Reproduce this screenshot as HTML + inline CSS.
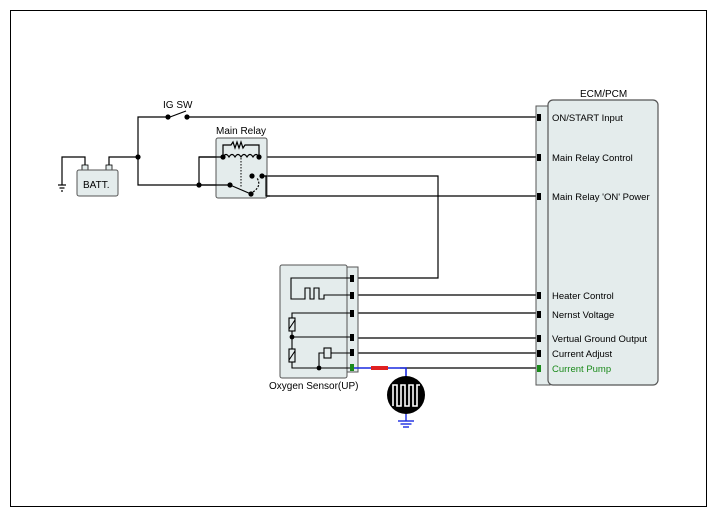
<!DOCTYPE html>
<html><head><style>
html,body{margin:0;padding:0;background:#fff;}
svg{display:block;font-family:"Liberation Sans",Arial,sans-serif;}
</style></head><body>
<svg width="717" height="518" viewBox="0 0 717 518" xmlns="http://www.w3.org/2000/svg">
<rect x="10.5" y="10.5" width="696" height="496" fill="#fff" stroke="#000" stroke-width="1"/>
<g stroke="#000" stroke-width="1.2" fill="none">
<!-- IG SW -->
<polyline points="168,117 138,117 138,185 199,185"/>
<line x1="170" y1="117" x2="186" y2="111"/>
<line x1="187" y1="117" x2="537" y2="117"/>
<!-- battery -->
<polyline points="109,166 109,157 138,157"/>
<polyline points="85,166 85,157 62,157 62,185"/>
<line x1="58" y1="185" x2="66" y2="185"/><line x1="59.5" y1="188" x2="64.5" y2="188"/><line x1="61" y1="191" x2="63" y2="191"/>
<!-- relay wiring -->
<polyline points="199,185 199,157 223,157"/>
<line x1="199" y1="185" x2="230" y2="185"/>
<line x1="230" y1="185" x2="251" y2="194"/>
<path d="M251,194 Q262,186 256,178" stroke-dasharray="2,1.5"/>
<line x1="259" y1="157" x2="537" y2="157"/>
<polyline points="262,176 438,176 438,278 352,278"/>
<polyline points="262,176 266,176 266,196 537,196"/>
<!-- sensor lines -->
<line x1="352" y1="295" x2="537" y2="295"/>
<line x1="352" y1="313" x2="537" y2="313"/>
<line x1="352" y1="338" x2="537" y2="338"/>
<line x1="352" y1="353" x2="537" y2="353"/>
<line x1="400" y1="368" x2="537" y2="368"/>
<!-- ECM strip pins vertical -->
</g>
<!-- relay box -->
<rect x="216" y="138" width="51" height="60" rx="2" fill="#e4ecec" stroke="#555" stroke-width="1"/>
<g stroke="#000" stroke-width="1.2" fill="none">
<line x1="199" y1="157" x2="223" y2="157"/>
<line x1="230" y1="185" x2="251" y2="194"/>
<polyline points="199,185 230,185"/>
<path d="M223,157 q3,-5 6,0 q3,-5 6,0 q3,-5 6,0 q3,-5 6,0 q3,-5 6,0 q3,-5 6,0"/>
<polyline points="223,157 223,145 231,145 233,142 235,148 237,142 239,148 241,142 243,148 245,145 259,145 259,157"/>
<line x1="241" y1="158" x2="241" y2="188" stroke-dasharray="1.5,1.5" stroke-width="1"/>
<path d="M253,192 Q262,186 257,178" stroke-dasharray="2,1.5"/>
<polyline points="252,176 252,174 262,174" stroke="none"/>
<line x1="262" y1="176" x2="267" y2="176"/>
<polyline points="262,176 266,176 266,196 270,196"/>
<line x1="252" y1="176" x2="252" y2="172" stroke="none"/>
</g>
<g fill="#000">
<circle cx="138" cy="157" r="2.6"/><circle cx="199" cy="185" r="2.6"/>
<circle cx="168" cy="117" r="2.6"/><circle cx="187" cy="117" r="2.6"/>
<circle cx="223" cy="157" r="2.6"/><circle cx="259" cy="157" r="2.6"/>
<circle cx="230" cy="185" r="2.6"/><circle cx="251" cy="194" r="2.6"/>
<circle cx="252" cy="176" r="2.6"/><circle cx="262" cy="176" r="2.6"/>
</g>
<text x="163" y="108" font-size="10">IG SW</text>
<text x="216" y="134" font-size="10">Main Relay</text>
<!-- battery -->
<rect x="82" y="165" width="6" height="5" fill="#e4ecec" stroke="#000" stroke-width="0.8"/>
<rect x="106" y="165" width="6" height="5" fill="#e4ecec" stroke="#000" stroke-width="0.8"/>
<rect x="77" y="170" width="41" height="26" rx="2" fill="#e4ecec" stroke="#555" stroke-width="1"/>
<text x="83" y="188" font-size="10">BATT.</text>
<!-- ECM -->
<rect x="536" y="106" width="14" height="279" fill="#e4ecec" stroke="#555" stroke-width="1"/>
<rect x="548" y="100" width="110" height="285" rx="5" fill="#e4ecec" stroke="#555" stroke-width="1.2"/>
<text x="580" y="97" font-size="10">ECM/PCM</text>
<g fill="#000">
<rect x="537" y="114" width="4" height="7"/><rect x="537" y="154" width="4" height="7"/><rect x="537" y="193" width="4" height="7"/>
<rect x="537" y="292" width="4" height="7"/><rect x="537" y="311" width="4" height="7"/><rect x="537" y="335" width="4" height="7"/>
<rect x="537" y="350" width="4" height="7"/><rect x="537" y="365" width="4" height="7" fill="#1a8a1a"/>
</g>
<g font-size="9.5" fill="#000">
<text x="552" y="121">ON/START Input</text>
<text x="552" y="161">Main Relay Control</text>
<text x="552" y="200">Main Relay 'ON' Power</text>
<text x="552" y="299">Heater Control</text>
<text x="552" y="318">Nernst Voltage</text>
<text x="552" y="342">Vertual Ground Output</text>
<text x="552" y="357">Current Adjust</text>
<text x="552" y="372" fill="#1a8a1a">Current Pump</text>
</g>
<!-- sensor -->
<rect x="346" y="267" width="12" height="105" fill="#e4ecec" stroke="#555" stroke-width="1"/>
<rect x="280" y="265" width="67" height="113" rx="2" fill="#e4ecec" stroke="#555" stroke-width="1"/>
<g stroke="#000" stroke-width="1.1" fill="none">
<polyline points="350,278 291,278 291,299 305,299 305,288 310,288 310,299 314,299 314,288 319,288 319,299 324,299 324,295 350,295"/>
<polyline points="350,313 292,313 292,318"/>
<rect x="289" y="318" width="6" height="13"/>
<polyline points="292,331 292,349"/>
<line x1="292" y1="337" x2="350" y2="337"/>
<rect x="289" y="349" width="6" height="13"/>
<polyline points="292,362 292,368 350,368"/>
<polyline points="319,368 319,353 324,353"/>
<rect x="324" y="348" width="7" height="10"/>
<line x1="331" y1="353" x2="350" y2="353"/>
<line x1="289" y1="329" x2="295" y2="320"/><line x1="289" y1="360" x2="295" y2="351"/>
</g>
<g fill="#000">
<circle cx="292" cy="337" r="2.4"/><circle cx="319" cy="368" r="2.4"/>
<rect x="350" y="275" width="4" height="7"/><rect x="350" y="292" width="4" height="7"/><rect x="350" y="310" width="4" height="7"/>
<rect x="350" y="334" width="4" height="7"/><rect x="350" y="349" width="4" height="7"/><rect x="350" y="364" width="4" height="7" fill="#1a8a1a"/>
</g>
<text x="269" y="389" font-size="10">Oxygen Sensor(UP)</text>
<!-- blue pump wire -->
<polyline points="354,368 406,368 406,378" stroke="#1a2ae0" stroke-width="1.6" fill="none"/>
<line x1="371" y1="368" x2="388" y2="368" stroke="#e02020" stroke-width="4"/>
<circle cx="406" cy="395" r="19" fill="#000"/>
<polyline points="393,406 393,385 397,385 397,406 401,406 401,385 405,385 405,406 409,406 409,385 413,385 413,406 417,406 417,385 420,385" stroke="#fff" stroke-width="1.6" fill="none"/>
<g stroke="#1a2ae0" stroke-width="1.4">
<line x1="406" y1="414" x2="406" y2="421"/>
<line x1="398" y1="421" x2="414" y2="421"/><line x1="400.5" y1="424" x2="411.5" y2="424"/><line x1="403" y1="427" x2="409" y2="427"/>
</g>
</svg>
</body></html>
